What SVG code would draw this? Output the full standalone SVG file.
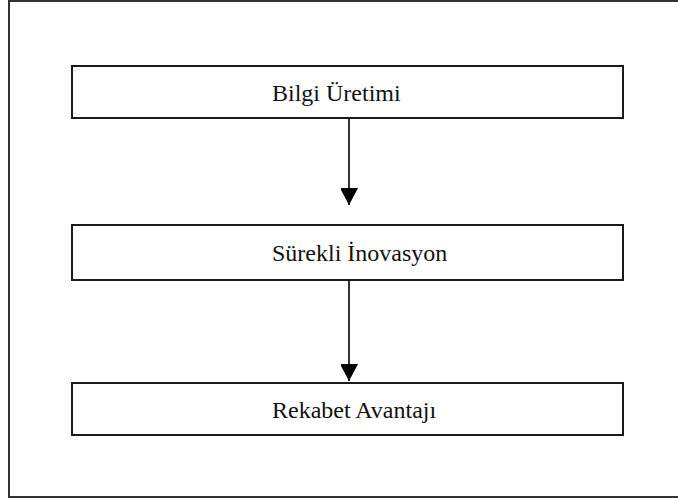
<svg xmlns="http://www.w3.org/2000/svg" width="678" height="499" viewBox="0 0 678 499">
  <style>
    .frame { fill: #ffffff; stroke: #333333; stroke-width: 2; }
    .box { fill: #ffffff; stroke: #1a1a1a; stroke-width: 2; }
    .label { font-family: "Liberation Serif", "Times New Roman", serif; font-size: 24px; fill: #111111; }
    .edge { stroke: #333333; stroke-width: 2; fill: none; }
  </style>
  <defs>
    <marker id="head" viewBox="0 0 18 17" markerWidth="18" markerHeight="17" refX="17" refY="9" orient="auto" markerUnits="userSpaceOnUse">
      <path d="M0,0 L17,9 L0,18 Z" fill="#000000"/>
    </marker>
  </defs>

  <!-- outer frame, right edge runs past the canvas -->
  <rect class="frame" x="9" y="1" width="680" height="496"/>

  <g id="bilgi-uretimi">
    <rect class="box" x="72" y="66" width="551" height="52"/>
    <text class="label" x="272" y="101">Bilgi Üretimi</text>
  </g>

  <g id="surekli-inovasyon">
    <rect class="box" x="72" y="225" width="551" height="55"/>
    <text class="label" x="272" y="261">Sürekli İnovasyon</text>
  </g>

  <g id="rekabet-avantaji">
    <rect class="box" x="72" y="383" width="551" height="52"/>
    <text class="label" x="272" y="418">Rekabet Avantajı</text>
  </g>

  <g id="connectors">
    <line class="edge" x1="349" y1="119" x2="349" y2="205" marker-end="url(#head)"/>
    <line class="edge" x1="349" y1="281" x2="349" y2="381" marker-end="url(#head)"/>
  </g>
</svg>
